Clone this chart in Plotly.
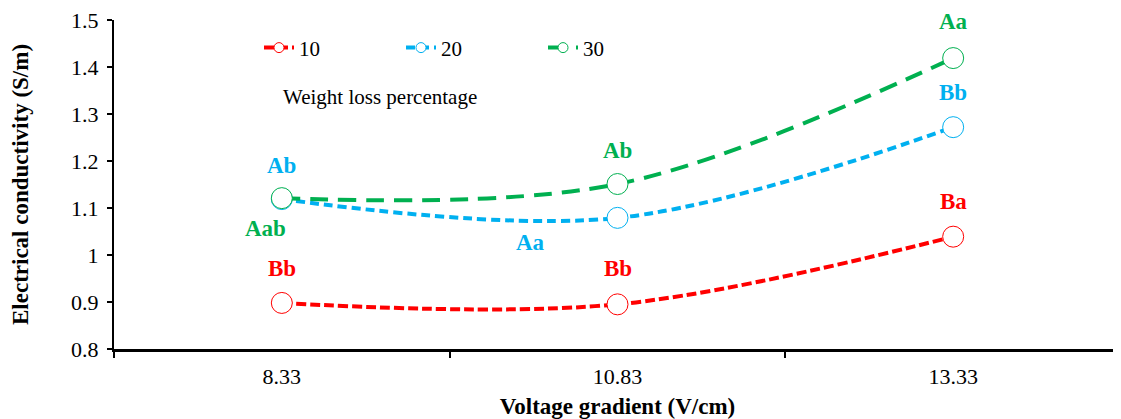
import plotly.graph_objects as go

categories = ["8.33", "10.83", "13.33"]
series_names = ["10", "20", "30"]
ec_10 = [0.898, 0.895, 1.039]
ec_20 = [1.119, 1.079, 1.272]
ec_30 = [1.121, 1.151, 1.419]
colors = ["#FF0000", "#00B0F0", "#00B050"]
dashes = ["10px,4px", "9px,5px", "18px,10px"]

letters_10 = ["Bb", "Bb", "Ba"]
letters_20 = ["Ab", "Aa", "Bb"]
letters_30 = ["Aab", "Ab", "Aa"]

# annotation anchor positions (category index, value)
lab_pos_10 = [(0, 0.972), (1, 0.972), (2, 1.113)]
lab_pos_20 = [(0, 1.191), (0.74, 1.026), (2, 1.345)]
lab_pos_30 = [(-0.05, 1.057), (1, 1.223), (2, 1.496)]

FONT = "Liberation Serif"

fig = go.Figure()
for name, vals, col, dsh in zip(series_names, [ec_10, ec_20, ec_30], colors, dashes):
    fig.add_trace(go.Scatter(
        x=categories, y=vals, mode="lines+markers", name=name,
        line=dict(color=col, width=4, dash=dsh, shape="spline", smoothing=1.0),
        marker=dict(symbol="circle", size=21, color="white", line=dict(color=col, width=1)),
        showlegend=False,
    ))
    fig.add_trace(go.Scatter(
        x=[None], y=[None], mode="lines+markers", name=name,
        line=dict(color=col, width=4, dash=dsh),
        marker=dict(symbol="circle", size=10, color="white", line=dict(color=col, width=1)),
        showlegend=True,
    ))

for letters, poss, col in zip([letters_10, letters_20, letters_30],
                              [lab_pos_10, lab_pos_20, lab_pos_30], colors):
    for t, (px, py) in zip(letters, poss):
        fig.add_annotation(x=px, y=py, xref="x", yref="y", text=t, showarrow=False,
                           font=dict(family=FONT, size=23, color=col, weight="bold"))

fig.add_annotation(x=0.264, y=0.766, xref="paper", yref="paper", text="Weight loss percentage",
                   xanchor="center", yanchor="middle",
                   showarrow=False, font=dict(family=FONT, size=21, color="black"))

fig.update_layout(
    width=1113, height=411,
    margin=dict(l=106, r=0, t=12, b=70),
    plot_bgcolor="white", paper_bgcolor="white",
    font=dict(family=FONT, color="black"),
    legend=dict(orientation="h", x=0.144, y=0.915, xanchor="left", yanchor="middle",
                entrywidth=97, entrywidthmode="pixels",
                font=dict(family=FONT, size=21, color="black"), bgcolor="rgba(0,0,0,0)"),
)
fig.update_xaxes(
    type="category", categoryorder="array", categoryarray=categories,
    range=[-0.5, 2.5], tickson="boundaries", ticks="outside", ticklen=6, tickwidth=1.5,
    tickcolor="black", showline=True, linecolor="black", linewidth=2.5, showgrid=False,
    tickfont=dict(family=FONT, size=22, color="black"), ticklabelstandoff=6,
    ticklabeloverflow="allow",
    title=dict(text="Voltage gradient (V/cm)", font=dict(family=FONT, size=23, color="black", weight="bold"),
               standoff=10),
    zeroline=False,
)
fig.update_yaxes(
    range=[0.8, 1.5], tickvals=[0.8, 0.9, 1.0, 1.1, 1.2, 1.3, 1.4, 1.5],
    ticktext=["0.8", "0.9", "1", "1.1", "1.2", "1.3", "1.4", "1.5"],
    ticks="outside", ticklen=5, tickwidth=1.5, tickcolor="black",
    showline=True, linecolor="black", linewidth=2, showgrid=False, zeroline=False,
    tickfont=dict(family=FONT, size=22, color="black"), ticklabelstandoff=4,
    ticklabeloverflow="allow",
    title=dict(text="Electrical conductivity (S/m)", font=dict(family=FONT, size=23, color="black", weight="bold"),
               standoff=37),
)

fig.write_html("out.html")
